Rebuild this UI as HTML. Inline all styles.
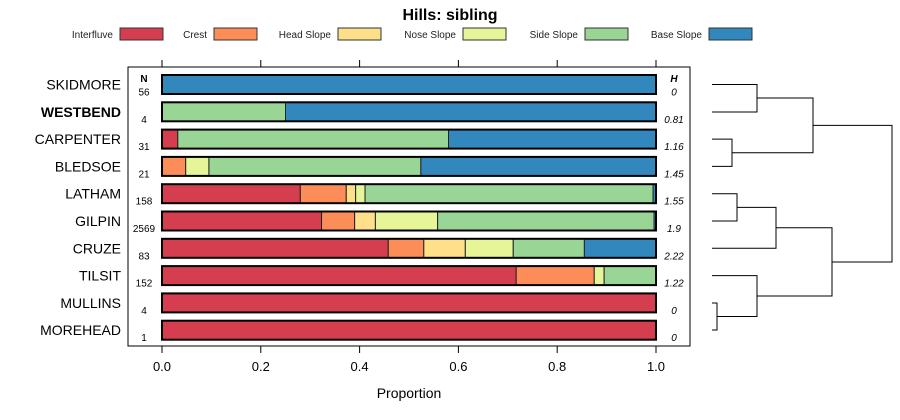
<!DOCTYPE html>
<html><head><meta charset="utf-8"><style>
body{margin:0;background:#fff;}
svg{display:block;font-family:"Liberation Sans",sans-serif;}
</style></head><body>
<svg id="c" width="900" height="420" xmlns="http://www.w3.org/2000/svg">
<text x="450" y="20" text-anchor="middle" font-size="16" font-weight="bold">Hills: sibling</text>
<g id="legend"></g>
<rect x="128" y="67" width="562" height="279" fill="none" stroke="#000" stroke-width="1"/>
<g id="bars"></g>
<g id="axis"></g>
<text x="409" y="398" text-anchor="middle" font-size="14">Proportion</text>
<text x="144" y="82" text-anchor="middle" font-size="10" font-weight="bold">N</text>
<text x="674" y="82" text-anchor="middle" font-size="10" font-weight="bold" font-style="italic">H</text>
<g id="dendro" fill="none" stroke="#000" stroke-width="1"></g>
</svg>
<script>
const classes = ["Interfluve","Crest","Head Slope","Nose Slope","Side Slope","Base Slope"];
const colors = ["#D53E4F","#FC8D59","#FEE08B","#E6F598","#99D594","#3288BD"];
const series = ["SKIDMORE","WESTBEND","CARPENTER","BLEDSOE","LATHAM","GILPIN","CRUZE","TILSIT","MULLINS","MOREHEAD"];
const counts = [56,4,31,21,158,2569,83,152,4,1];
const entropy = ["0","0.81","1.16","1.45","1.55","1.9","2.22","1.22","0","0"];
const props = [
 [0,0,0,0,0,1],
 [0,0,0,0,0.25,0.75],
 [0.032,0,0,0,0.548,0.42],
 [0,0.048,0,0.047,0.429,0.476],
 [0.28,0.093,0.019,0.019,0.583,0.006],
 [0.323,0.067,0.042,0.126,0.438,0.004],
 [0.458,0.072,0.084,0.097,0.144,0.145],
 [0.717,0.158,0,0.02,0.105,0],
 [1,0,0,0,0,0],
 [1,0,0,0,0,0]
];
const ticks = [0,0.2,0.4,0.6,0.8,1.0];
const tickLabels = ["0.0","0.2","0.4","0.6","0.8","1.0"];
const NS="http://www.w3.org/2000/svg";
function el(tag,attrs,parent){const e=document.createElementNS(NS,tag);for(const k in attrs)e.setAttribute(k,attrs[k]);parent.appendChild(e);return e;}
const xs = v => 162 + v*494;
const ys = i => 84.5 + i*27.3;
// legend
const lg=document.getElementById('legend');
const legX=[113,207,331,456,578,702];
classes.forEach((c,i)=>{
 const t=el('text',{x:legX[i],y:38,'text-anchor':'end','font-size':'10',fill:'#222'},lg);
 t.textContent=c;
 
 
 const r=el('rect',{x:legX[i]+7,y:28,width:43,height:12,fill:colors[i],stroke:'#333','stroke-width':1},lg);
 
 
});
// bars
const bg=document.getElementById('bars');
series.forEach((s,i)=>{
 const y=ys(i);
 let acc=0;
 props[i].forEach((p,j)=>{
  if(p<=0)return;
  const r=el('rect',{x:xs(acc),y:y-9.5,width:p*494,height:19,fill:colors[j],stroke:'#222','stroke-width':1},bg);
  
  
  acc+=p;
 });
 const o=el('rect',{x:xs(0),y:y-9.5,width:494,height:19,fill:'none',stroke:'#000','stroke-width':2},bg);
 
 
 const lab=el('text',{x:121,y:y+5,'text-anchor':'end','font-size':'14','font-weight':s==='WESTBEND'?'bold':'normal'},bg);
 lab.textContent=s;
 
 
 const n=el('text',{x:144,y:y+11,'text-anchor':'middle','font-size':'10'},bg);
 n.textContent=counts[i];
 
 
 const h=el('text',{x:674,y:y+11,'text-anchor':'middle','font-size':'10','font-style':'italic'},bg);
 h.textContent=entropy[i];
 
 
});
// axis
const ax=document.getElementById('axis');
ticks.forEach((t,i)=>{
 const x=xs(t);
 const a=el('line',{x1:x,x2:x,y1:60,y2:67,stroke:'#000'},ax);
 
 
 const b=el('line',{x1:x,x2:x,y1:346,y2:353,stroke:'#000'},ax);
 
 
 const l=el('text',{x:x,y:371,'text-anchor':'middle','font-size':'13'},ax);
 l.textContent=tickLabels[i];
 
 
});
// dendrogram
const dg=document.getElementById('dendro');
const segs=[
 "M712,84.5H757V112H712","M712,139.1H732V166.4H712",
 "M757,98H813V152.7H732",
 "M712,193.7H737V221H712","M737,207.4H776V248.3H712",
 "M712,303H717V330H712","M712,275.6H757V316.5H717",
 "M776,227.8H832V296H757",
 "M813,125.4H892V262H832"
];
segs.forEach(d=>{
 const p=el('path',{d:d},dg);
 
 
});
</script>
</body></html>
